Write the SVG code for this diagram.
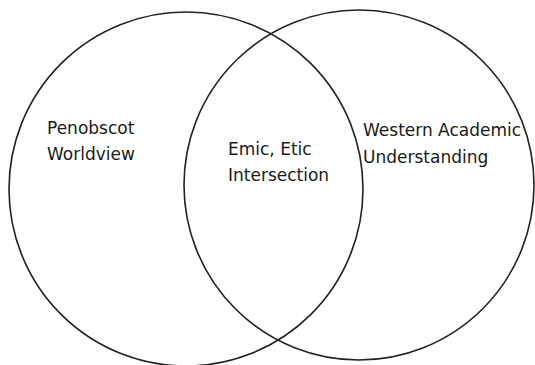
<svg xmlns="http://www.w3.org/2000/svg" width="535" height="365" viewBox="0 0 535 365">
<style>
.c{fill:none;stroke:#222;stroke-width:1.6}
.t{font-family:"DejaVu Sans",sans-serif;font-size:17px;fill:#1a1a1a}
</style>
<rect width="535" height="365" fill="#fff"/>
<g id="penobscot">
<circle class="c" cx="186" cy="189" r="177"/>
<text class="t" x="47" y="134">Penobscot</text>
<text class="t" x="47" y="160">Worldview</text>
</g>
<g id="western">
<circle class="c" cx="359" cy="185" r="175"/>
<text class="t" x="363" y="136">Western Academic</text>
<text class="t" x="363" y="163">Understanding</text>
</g>
<g id="intersection">
<text class="t" x="228" y="155">Emic, Etic</text>
<text class="t" x="228" y="181">Intersection</text>
</g>
<g id="connectors"></g>
</svg>
